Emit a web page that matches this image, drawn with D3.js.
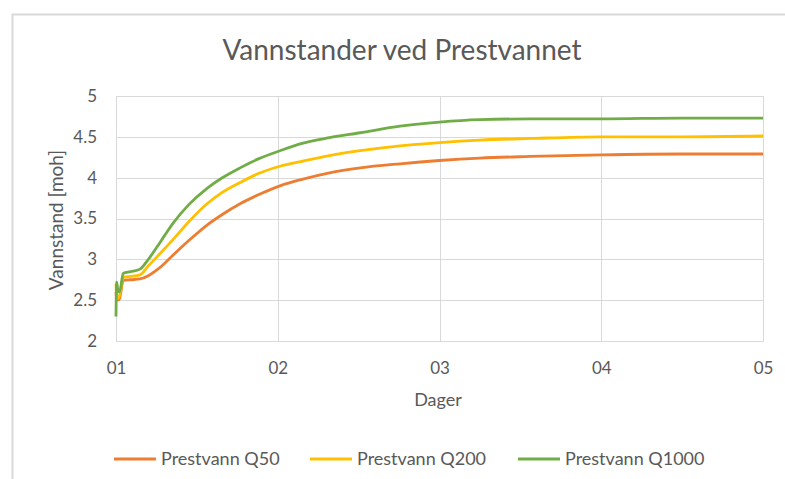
<!DOCTYPE html>
<html><head><meta charset="utf-8">
<script src="https://cdn.jsdelivr.net/npm/d3@7"></script>
<style>body{margin:0;background:#fff;}svg{display:block;font-family:Lato,"Open Sans",sans-serif;}</style>
</head><body><svg id="c" width="785" height="479"></svg>
<script>
const days = [1.0, 1.004, 1.012, 1.022, 1.045, 1.09, 1.148, 1.20, 1.253, 1.30, 1.352, 1.45, 1.563, 1.65, 1.767, 1.88, 2.014, 2.15, 2.32, 2.51, 2.756, 3.0, 3.25, 3.56, 4.0, 4.5, 5.0];
const q50   = [2.6, 2.52, 2.5, 2.52, 2.74, 2.75, 2.76, 2.8, 2.87, 2.95, 3.05, 3.23, 3.42, 3.54, 3.68, 3.79, 3.9, 3.98, 4.06, 4.12, 4.17, 4.21, 4.24, 4.26, 4.28, 4.29, 4.29];
const q200  = [2.7, 2.55, 2.52, 2.56, 2.78, 2.79, 2.81, 2.92, 3.03, 3.13, 3.24, 3.46, 3.68, 3.81, 3.94, 4.05, 4.14, 4.2, 4.27, 4.33, 4.39, 4.43, 4.46, 4.48, 4.5, 4.5, 4.51];
const q1000 = [2.3, 2.72, 2.62, 2.6, 2.83, 2.85, 2.88, 3.0, 3.15, 3.29, 3.44, 3.67, 3.87, 3.99, 4.12, 4.23, 4.33, 4.42, 4.49, 4.55, 4.63, 4.68, 4.71, 4.72, 4.72, 4.73, 4.73];
const seriesNames = ["Prestvann Q50", "Prestvann Q200", "Prestvann Q1000"];
const seriesColors = ["#ED7D31", "#FFC000", "#70AD47"];
const xTicks = [1, 2, 3, 4, 5];
const xTickLabels = ["01", "02", "03", "04", "05"];
const yTicks = [2, 2.5, 3, 3.5, 4, 4.5, 5];

const FONT = "Lato,'Open Sans',sans-serif";
const svg = d3.select("#c");
const m = {l:116, r:763, t:96, b:341};
const x = d3.scaleLinear().domain([1,5]).range([m.l, m.r]);
const y = d3.scaleLinear().domain([2,5]).range([m.b, m.t]);

// chart border
svg.append("path").attr("d","M12.5,479 V14.5 H785").attr("fill","none").attr("stroke","#d9d9d9").attr("stroke-width",2);

// title
svg.append("text").attr("x",402).attr("y",60).attr("text-anchor","middle")
  .attr("font-size",28).attr("fill","#595959").text("Vannstander ved Prestvannet");

// gridlines
svg.append("g").selectAll("line").data(yTicks).join("line")
  .attr("x1",m.l).attr("x2",m.r).attr("y1",d=>Math.round(y(d))+0.5).attr("y2",d=>Math.round(y(d))+0.5)
  .attr("stroke","#d9d9d9").attr("stroke-width",1);
svg.append("g").selectAll("line").data(xTicks).join("line")
  .attr("y1",m.t).attr("y2",m.b).attr("x1",d=>Math.round(x(d))+0.5).attr("x2",d=>Math.round(x(d))+0.5)
  .attr("stroke","#d9d9d9").attr("stroke-width",1);

// axes
const yAxis = d3.axisLeft(y).tickValues(yTicks).tickSize(0).tickPadding(19).tickFormat(d=>String(d));
const gy = svg.append("g").attr("transform",`translate(${m.l},0)`).call(yAxis);
gy.select(".domain").remove();
gy.selectAll("text").attr("font-size",17).attr("fill","#595959").attr("font-family",FONT);

const xAxis = d3.axisBottom(x).tickValues(xTicks).tickSize(0).tickPadding(21).tickFormat((d,i)=>xTickLabels[i]);
const gx = svg.append("g").attr("transform",`translate(0,${m.b})`).call(xAxis);
gx.select(".domain").attr("stroke","#d9d9d9");
gx.selectAll("text").attr("font-size",17).attr("fill","#595959").attr("font-family",FONT);

// axis titles
svg.append("text").attr("x",438).attr("y",406).attr("text-anchor","middle")
  .attr("font-size",18).attr("fill","#595959").text("Dager");
svg.append("text").attr("transform","translate(63,220) rotate(-90)").attr("text-anchor","middle")
  .attr("font-size",19).attr("fill","#595959").text("Vannstand [moh]");

// lines
const data = [q50, q200, q1000];
const line = d3.line().x((d,i)=>x(days[i])).y(d=>y(d)).curve(d3.curveMonotoneX);
data.forEach((s,k)=>{
  svg.append("path").datum(s).attr("d",line).attr("fill","none")
    .attr("stroke",seriesColors[k]).attr("stroke-width",2.8).attr("stroke-linejoin","round");
});

// legend
const legX = [114, 310, 518];
const lg = svg.append("g");
seriesNames.forEach((n,k)=>{
  lg.append("line").attr("x1",legX[k]).attr("x2",legX[k]+42).attr("y1",459).attr("y2",459)
    .attr("stroke",seriesColors[k]).attr("stroke-width",2.8);
  lg.append("text").attr("x",legX[k]+47).attr("y",465).attr("font-size",18).attr("fill","#595959").text(n);
});
</script></body></html>
